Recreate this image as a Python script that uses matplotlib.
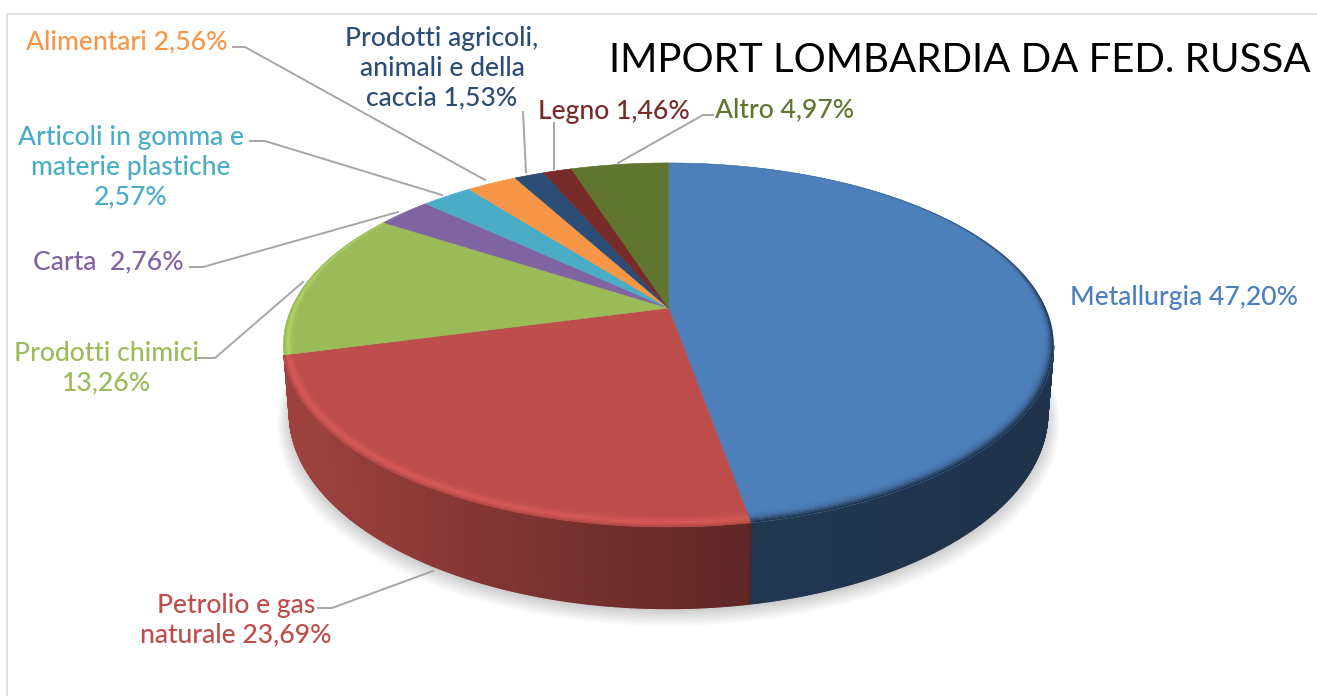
#!/usr/bin/env python3
"""Import Lombardia da Fed. Russa: pie with a fake 3D perspective look."""

import matplotlib

matplotlib.use("Agg")
import matplotlib.pyplot as plt
import numpy as np

plt.rcParams["font.family"] = ["Lato", "DejaVu Sans"]

TITLE = "IMPORT LOMBARDIA DA FED. RUSSA"
categories = [
    "Metallurgia",
    "Petrolio e gas naturale",
    "Prodotti chimici",
    "Carta",
    "Articoli in gomma e materie plastiche",
    "Alimentari",
    "Prodotti agricoli, animali e della caccia",
    "Legno",
    "Altro",
]
shares = [47.20, 23.69, 13.26, 2.76, 2.57, 2.56, 1.53, 1.46, 4.97]
label_texts = [
    "Metallurgia 47,20%",
    "Petrolio e gas\nnaturale 23,69%",
    "Prodotti chimici\n13,26%",
    "Carta  2,76%",
    "Articoli in gomma e\nmaterie plastiche\n2,57%",
    "Alimentari 2,56%",
    "Prodotti agricoli,\nanimali e della\ncaccia 1,53%",
    "Legno 1,46%",
    "Altro 4,97%",
]
colors = ["#4d7fba", "#bd4e4b", "#9bbb59", "#8064a2", "#4bacc6", "#f79646", "#2c4d75", "#772c2a", "#5f7530"]

# layout in pixels of the 1317x696 picture
CX, CY = 668.5, 308.0
RX, RY = 377.0, 174.5
TILT = 0.203
DEPTH = 65.0
LOWER_RIM = 0.985
label_pos = [
    (1184, 297), (236, 620), (107, 368), (108, 262), (131, 167),
    (127, 42), (442, 68), (614, 111), (785, 110),
]
leaders = [
    None,
    [(318, 608), (332, 608), (433, 571)],
    [(198, 358), (215, 358), (303, 282)],
    [(190, 267), (203, 267), (398, 212)],
    [(250, 141), (265, 141), (442, 195)],
    [(233, 47), (245, 47), (485, 180)],
    [(523, 112), (526, 172)],
    [(554, 123), (554, 169)],
    [(713, 115), (703, 115), (618, 163)],
]
LABEL_SIZE = 19.1
TITLE_SIZE = 29


def disc_xy(theta, r=1.0):
    # theta runs clockwise from 12 o'clock, far side of the disc gets smaller
    u = r * np.sin(theta)
    v = r * np.cos(theta)
    w = 1 + TILT * v
    return CX + RX * u / w, CY - RY * v / w


def lower_xy(theta, r=1.0):
    x, y = disc_xy(theta, r)
    return CX + (x - CX) * LOWER_RIM, y + DEPTH / (1 + TILT * np.cos(theta))


def mix(color, factor):
    return tuple(np.clip(np.array(matplotlib.colors.to_rgb(color)) * factor, 0, 1))


def draw_shadow(ax):
    theta = np.linspace(0, 2 * np.pi, 361)
    for grow, off in zip(np.linspace(1.03, 1.0, 8), np.linspace(9, 3, 8)):
        x, y = lower_xy(theta, grow)
        ax.fill(x, y + off, color="#000000", alpha=0.022, lw=0, zorder=1)


def draw_side(ax, start, stop, color):
    # only the arc between the two silhouette points can be seen
    first = np.arccos(-TILT)
    start, stop = max(start, first), min(stop, 2 * np.pi - first)
    if stop - start < np.radians(5):
        return
    steps = np.linspace(start, stop, int((stop - start) * 200) + 2)
    for a, b in zip(steps[:-1], steps[1:]):
        xa, ya = disc_xy(a)
        xb, yb = disc_xy(b)
        xa2, ya2 = lower_xy(a)
        xb2, yb2 = lower_xy(b)
        shade = np.interp(0.5 * (xa + xb), [285, 749, 751, 1053], [0.84, 0.5, 0.43, 0.4])
        ax.fill([xa, xb, xb2, xa2], [ya, yb, yb2, ya2], color=mix(color, shade), lw=1.0, zorder=2)


def draw_top(ax, start, stop, color):
    theta = np.linspace(start, stop, max(int((stop - start) * 120), 2) + 1)
    x, y = disc_xy(theta)
    ax.fill(np.r_[CX, x], np.r_[CY, y], color=color, lw=0.4, zorder=3)

    # soft bevel on the rim, wider on the near side
    warm = disc_xy(0.5 * (start + stop))[0] < CX + 80
    factors = [0.98, 1.08, 1.14, 1.1, 1.05, 1.02] if warm else [0.42, 0.6, 0.78, 0.9, 0.96, 0.99]
    edges = np.linspace(0, 1, len(factors) + 1)
    width = 0.042 * (1 - np.cos(theta)) / 2 + 0.002
    for k, factor in enumerate(factors):
        xo, yo = disc_xy(theta, 1 - width * edges[k])
        xi, yi = disc_xy(theta, 1 - width * edges[k + 1])
        ax.fill(np.r_[xo, xi[::-1]], np.r_[yo, yi[::-1]], color=mix(color, factor), lw=0, zorder=4)


def main():
    fig = plt.figure(figsize=(13.17, 6.96), dpi=100)
    ax = fig.add_axes([0, 0, 1, 1])
    ax.set_xlim(0, 1317)
    ax.set_ylim(696, 0)
    ax.axis("off")

    # frame remains of the original screenshot
    ax.plot([7, 7, 1317], [696, 14, 14], color="#dcdcdc", lw=1.2, zorder=0)

    bounds = np.r_[0, np.cumsum(shares)] / np.sum(shares) * 2 * np.pi
    draw_shadow(ax)
    for i, color in enumerate(colors):
        draw_side(ax, bounds[i], bounds[i + 1], color)
    for i, color in enumerate(colors):
        draw_top(ax, bounds[i], bounds[i + 1], color)

    for text, color, (x, y), line in zip(label_texts, colors, label_pos, leaders):
        ax.text(x, y, text, color=color, fontsize=LABEL_SIZE, fontweight="medium", ha="center", va="center",
                linespacing=1.24, zorder=6)
        if line:
            xs, ys = zip(*line)
            ax.plot(xs, ys, color="#a6a6a6", lw=1.4, zorder=5)

    ax.text(960, 60, TITLE, color="black", fontsize=TITLE_SIZE, ha="center", va="center", zorder=6)

    fig.savefig("out.png", dpi=100)
    plt.close(fig)


if __name__ == "__main__":
    main()
